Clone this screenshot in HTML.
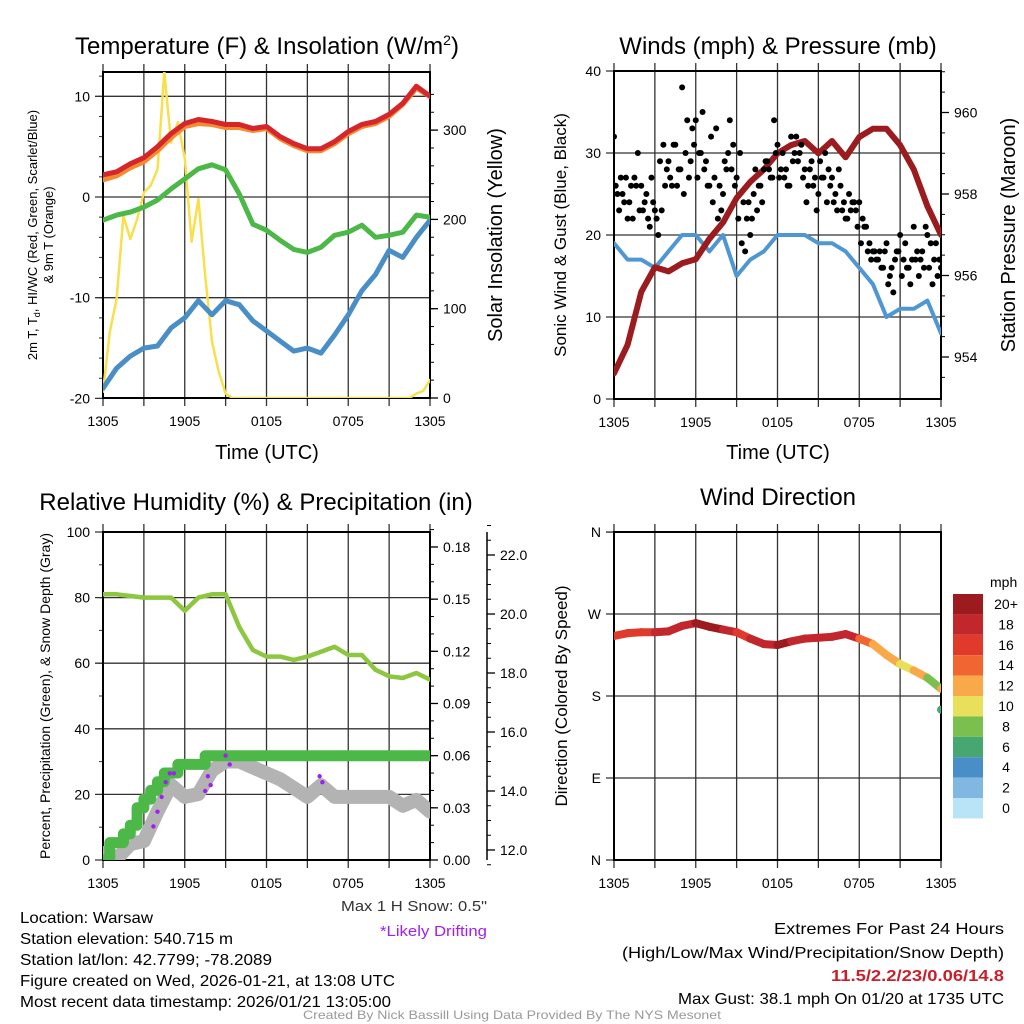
<!DOCTYPE html>
<html><head><meta charset="utf-8"><style>
html,body{margin:0;padding:0;background:#fff;}
svg{display:block;font-family:"Liberation Sans",sans-serif;}
</style></head><body>
<svg id="fig" width="1024" height="1024" viewBox="0 0 1024 1024" xmlns="http://www.w3.org/2000/svg">
<rect x="0" y="0" width="1024" height="1024" fill="#fff"/>
<g id="layer"></g>
<text x="267" y="54" font-size="24" text-anchor="middle">Temperature (F) &amp; Insolation (W/m<tspan dy="-9" font-size="14">2</tspan><tspan dy="9">)</tspan></text>
<text x="778" y="54" font-size="24" text-anchor="middle">Winds (mph) &amp; Pressure (mb)</text>
<text x="256" y="510" font-size="24" text-anchor="middle">Relative Humidity (%) &amp; Precipitation (in)</text>
<text x="778" y="505" font-size="24" text-anchor="middle">Wind Direction</text>
<text x="267" y="459" font-size="20" text-anchor="middle">Time (UTC)</text>
<text x="778" y="459" font-size="20" text-anchor="middle">Time (UTC)</text>
<text transform="translate(37,235) rotate(-90)" font-size="13" text-anchor="middle">2m T, T<tspan dy="3" font-size="9">d</tspan><tspan dy="-3">, HI/WC (Red, Green, Scarlet/Blue)</tspan></text>
<text transform="translate(53,235) rotate(-90)" font-size="13" text-anchor="middle">&amp; 9m T (Orange)</text>
<text transform="translate(502,235) rotate(-90)" font-size="20" text-anchor="middle">Solar Insolation (Yellow)</text>
<text transform="translate(566,235) rotate(-90)" font-size="17" text-anchor="middle">Sonic Wind &amp; Gust (Blue, Black)</text>
<text transform="translate(1015,235) rotate(-90)" font-size="20" text-anchor="middle">Station Pressure (Maroon)</text>
<text transform="translate(50,696) rotate(-90)" font-size="14" text-anchor="middle">Percent, Precipitation (Green), &amp; Snow Depth (Gray)</text>
<text transform="translate(567,696) rotate(-90)" font-size="17" text-anchor="middle">Direction (Colored By Speed)</text>
<text x="487" y="911" font-size="15" text-anchor="end" fill="#333" textLength="146" lengthAdjust="spacingAndGlyphs">Max 1 H Snow: 0.5"</text>
<text x="487" y="936" font-size="15" text-anchor="end" fill="#a020f0" textLength="107" lengthAdjust="spacingAndGlyphs">*Likely Drifting</text>
<g font-size="16">
<text x="20" y="923" textLength="133" lengthAdjust="spacingAndGlyphs">Location: Warsaw</text>
<text x="20" y="944" textLength="213" lengthAdjust="spacingAndGlyphs">Station elevation: 540.715 m</text>
<text x="20" y="965" textLength="252" lengthAdjust="spacingAndGlyphs">Station lat/lon: 42.7799; -78.2089</text>
<text x="20" y="986" textLength="375" lengthAdjust="spacingAndGlyphs">Figure created on Wed, 2026-01-21, at 13:08 UTC</text>
<text x="20" y="1007" textLength="371" lengthAdjust="spacingAndGlyphs">Most recent data timestamp: 2026/01/21 13:05:00</text>
</g>
<g font-size="16" text-anchor="end">
<text x="1004" y="934" textLength="230" lengthAdjust="spacingAndGlyphs">Extremes For Past 24 Hours</text>
<text x="1004" y="958" textLength="382" lengthAdjust="spacingAndGlyphs">(High/Low/Max Wind/Precipitation/Snow Depth)</text>
<text x="1004" y="981" fill="#c8202a" font-weight="bold" textLength="173" lengthAdjust="spacingAndGlyphs">11.5/2.2/23/0.06/14.8</text>
<text x="1004" y="1004" textLength="326" lengthAdjust="spacingAndGlyphs">Max Gust: 38.1 mph On 01/20 at 1735 UTC</text>
</g>
<text x="512" y="1019" font-size="12" text-anchor="middle" fill="#999" textLength="418" lengthAdjust="spacingAndGlyphs">Created By Nick Bassill Using Data Provided By The NYS Mesonet</text>
</svg>
<script>
// ---------- data (hourly from 1305 UTC unless noted) ----------
var timeLabels = ["1305","1905","0105","0705","1305"];
var tempT  = [2.2,2.5,3.3,3.9,5.0,6.3,7.3,7.7,7.5,7.2,7.2,6.8,7.0,6.0,5.3,4.8,4.8,5.5,6.5,7.2,7.5,8.2,9.3,11.0,10.0];
var temp9m = [1.7,2.1,2.9,3.5,4.6,5.9,7.0,7.3,7.2,6.9,6.9,6.6,6.8,5.8,5.1,4.6,4.6,5.3,6.3,7.0,7.3,8.0,9.2,10.8,10.0];
var dewpt  = [-2.3,-1.8,-1.5,-1.0,-0.3,0.8,1.8,2.8,3.2,2.7,0.3,-2.7,-3.3,-4.3,-5.2,-5.5,-5.0,-3.8,-3.5,-2.8,-4.0,-3.8,-3.5,-1.8,-2.0];
var windChill = [-19.0,-17.0,-15.8,-15.0,-14.8,-13.0,-12.0,-10.3,-11.7,-10.3,-10.7,-12.3,-13.3,-14.3,-15.3,-15.0,-15.5,-13.7,-11.7,-9.3,-7.7,-5.3,-6.0,-4.0,-2.3];
// half-hourly
var insolation = [7,74,111,204,178,200,230,238,256,365,286,309,268,175,223,137,63,29,5,0,0,0,0,0,0,0,0,0,0,0,0,0,0,0,0,0,0,0,0,0,0,0,0,0,0,0,5,8,20];
var sonicWind = [19,17,17,16,18,20,20,18,20,15,17,18,20,20,20,19,19,18,16,14,10,11,11,12,8];
var pressure = [953.6,954.3,955.6,956.2,956.1,956.3,956.4,956.9,957.3,957.9,958.3,958.6,959.0,959.2,959.3,959.0,959.3,958.9,959.4,959.6,959.6,959.2,958.6,957.7,957.0];
// 15-minute gusts
var gustA = [32,25,27,24,22,26,27,30,26,24,22,27,23,20,23,26,29,26,31,28,38,30,27,33,34,30,35,29,26,24,33,26,25,28,34,31,27,30,24,22,20,25,23,26,28,29,27,34,31,28,27,26,32,30,29,31,28,26,29,27,25,27,30,28,27,25,28,23,22,25,24,23,24,22,21,19,18,17,18,16,19,15,13,18,20,17,16,14,21,18,17,16,20,19,17,15,16,12];
var gustB = [26,23,25,27,24,22,26,23,23,25,21,24,22,29,31,28,27,31,26,28,25,34,29,31,27,30,28,26,32,27,22,23,29,30,28,26,22,19,18,24,22,28,26,24,29,28,27,30,27,30,28,26,29,32,30,27,24,28,26,23,29,27,24,26,24,23,26,24,22,23,24,21,19,21,18,17,18,17,16,18,14,16,17,18,15,19,16,17,17,15,18,21,16,14,19,17];
var relHum = [81,81,80.5,80,80,80,76,80,81,81,71,64,62,62,61,62,63.5,65,62.5,62.5,58,56,55.5,57,55];
// half-hourly precipitation
var precip = [0,0.01,0.01,0.015,0.02,0.03,0.035,0.04,0.045,0.05,0.05,0.055,0.055,0.055,0.055,0.06,0.06,0.06,0.06,0.06,0.06,0.06,0.06,0.06,0.06,0.06,0.06,0.06,0.06,0.06,0.06,0.06,0.06,0.06,0.06,0.06,0.06,0.06,0.06,0.06,0.06,0.06,0.06,0.06,0.06,0.06,0.06,0.06,0.06];
var snowDepth = [11.9,11.7,12.2,12.3,13.3,14.2,13.8,13.9,14.7,15.0,15.0,14.8,14.6,14.4,14.1,13.8,14.2,13.8,13.8,13.8,13.8,13.8,13.5,13.7,13.3];
var driftHours = [3.7,4.0,4.3,4.6,4.9,5.2,7.5,7.7,7.9,9.0,9.3,15.9,16.1];
var driftSnow  = [12.8,13.3,13.8,14.3,14.6,14.6,14.0,14.5,14.2,15.2,14.9,14.5,14.3];
var windDir   = [246,249,250,250,251,257,260,256,253,250,243,237,236,240,243,244,245,248,243,237,225,215,208,200,188,165];
var windSpeed = [16,16,17,18,18,19,20,20,18,17,18,19,20,19,19,19,19,19,15,13,12,10,12,8,12,7];
var speedLabels = ["20+","18","16","14","12","10","8","6","4","2","0"];
var speedColors = ["#9b1b1e","#c1272d","#e03a2c","#f06530","#f9a84a","#e8e05a","#7bc04f","#47a770","#4a8ec8","#80b8e2","#b9e3f6"];

var NS="http://www.w3.org/2000/svg";
var layer=document.getElementById('layer');
function mk(tag,attrs,parent){var e=document.createElementNS(NS,tag);for(var k in attrs)e.setAttribute(k,attrs[k]);(parent||layer).appendChild(e);return e;}
function txt(x,y,s,size,anchor,parent){var t=mk('text',{x:x,y:y,'font-size':size,'text-anchor':anchor},parent);t.textContent=s;return t;}

function panel(x0,y0,w,h){return {x0:x0,y0:y0,w:w,h:h,x:function(hr){return x0+hr*w/24;}};}
var TL=panel(103,72,327,326), TR=panel(614,71,327,328), BL=panel(103,532,327,328), BR=panel(614,532,327,328);
function yT(v){return 197-v*10.07;}
function yS(v){return 398-v*0.893;}
function yW(v){return 399-v*8.2;}
function yP(v){return 357-(v-954)*40.75;}
function yRH(v){return 860-v*3.28;}
function yPr(v){return 860-v*1739;}
function ySn(v){return 850-(v-12)*29.5;}
function yD(v){return 860-v*0.911;}

function frame(p,name,yTicks,yFn,yLab,yMinor){
  var g=mk('g',{});
  
  
  for(var i=0;i<=8;i++){var xx=p.x(i*3);mk('line',{x1:xx,y1:p.y0-8,x2:xx,y2:p.y0+p.h+8,stroke:'#333','stroke-width':1.3},g);}
  for(var j=0;j<yTicks.length;j++){var yy=yFn(yTicks[j]);mk('line',{x1:p.x0-8,y1:yy,x2:p.x0+p.w,y2:yy,stroke:'#333','stroke-width':1.3},g);
    txt(p.x0-13,yy+5,yLab[j],14,'end',g);}
  if(yMinor){for(var m=0;m<yMinor.length;m++){var ym=yFn(yMinor[m]);mk('line',{x1:p.x0-4,y1:ym,x2:p.x0,y2:ym,stroke:'#333','stroke-width':1},g);}}
  mk('rect',{x:p.x0,y:p.y0,width:p.w,height:p.h,fill:'none',stroke:'#000','stroke-width':2},g);
  for(var k=0;k<timeLabels.length;k++){txt(p.x(k*6),p.y0+p.h+28,timeLabels[k],14,'middle',g);}
  return g;
}
function rightAxis(p,ax,vals,labs,yFn,minor,name){
  var g=mk('g',{});
  
  
  for(var i=0;i<vals.length;i++){var yy=yFn(vals[i]);mk('line',{x1:ax,y1:yy,x2:ax+8,y2:yy,stroke:'#000','stroke-width':1.3},g);txt(ax+13,yy+5,labs[i],14,'start',g);}
  for(var m=0;m<minor.length;m++){var ym=yFn(minor[m]);mk('line',{x1:ax,y1:ym,x2:ax+4,y2:ym,stroke:'#000','stroke-width':1},g);}
  return g;
}
function range(a,b,s){var r=[];for(var v=a;v<=b+1e-9;v+=s)r.push(+v.toFixed(4));return r;}
function series(p,vals,step,yFn,color,width,name){
  var pts=vals.map(function(v,i){return p.x(i*step).toFixed(1)+','+yFn(v).toFixed(1);}).join(' ');
  var e=mk('polyline',{points:pts,fill:'none',stroke:color,'stroke-width':width,'stroke-linejoin':'round','stroke-linecap':'round'});
  
  
  return e;
}
function clip(id,p){var d=mk('clipPath',{id:id});mk('rect',{x:p.x0,y:p.y0,width:p.w,height:p.h},d);}
clip('cTL',TL);clip('cTR',TR);clip('cBL',BL);clip('cBR',BR);

// --- Temperature panel
frame(TL,'temperature-frame',[-20,-10,0,10],yT,['-20','-10','0','10'],range(-20,12,2));
rightAxis(TL,430,[0,100,200,300],['0','100','200','300'],yS,range(0,340,20),'insolation-axis');
var gTL=mk('g',{'clip-path':'url(#cTL)'});
var l;
l=series(TL,insolation,0.5,yS,'#f7e04b',2.5,'insolation-line');gTL.appendChild(l);
l=series(TL,windChill,1,yT,'#4a8ec8',5,'windchill-line');gTL.appendChild(l);
l=series(TL,dewpt,1,yT,'#4cb848',5,'dewpoint-line');gTL.appendChild(l);
l=series(TL,temp9m,1,yT,'#f58a30',5,'temp-9m-line');gTL.appendChild(l);
l=series(TL,tempT,1,yT,'#d7262b',5,'temp-2m-line');gTL.appendChild(l);

// --- Winds panel
frame(TR,'wind-frame',[0,10,20,30,40],yW,['0','10','20','30','40'],null);
rightAxis(TR,941,[954,956,958,960],['954','956','958','960'],yP,range(953.5,961,0.5),'pressure-axis');
var gTR=mk('g',{'clip-path':'url(#cTR)'});
l=series(TR,sonicWind,1,yW,'#4f97d2',4,'sonic-wind-line');gTR.appendChild(l);
l=series(TR,pressure,1,yP,'#9b1b1e',6,'pressure-line');gTR.appendChild(l);
gustA.forEach(function(v,i){
  var c=mk('circle',{cx:TR.x(i*0.25),cy:yW(v),r:3,fill:'#000'},gTR);
  
  
});
gustB.forEach(function(v,i){
  var c=mk('circle',{cx:TR.x(i*0.25+0.125),cy:yW(v),r:3,fill:'#000'},gTR);
  
  
});

// --- Humidity panel
frame(BL,'humidity-frame',[0,20,40,60,80,100],yRH,['0','20','40','60','80','100'],range(0,100,10));
rightAxis(BL,430,[0,0.03,0.06,0.09,0.12,0.15,0.18],['0.00','0.03','0.06','0.09','0.12','0.15','0.18'],yPr,range(0,0.19,0.01),'precip-axis');
var sa=mk('line',{x1:487,y1:532,x2:487,y2:860,stroke:'#000','stroke-width':1.5});


rightAxis(BL,487,[12,14,16,18,20,22],['12.0','14.0','16.0','18.0','20.0','22.0'],ySn,range(11.5,23,0.5),'snow-axis');
var gBL=mk('g',{'clip-path':'url(#cBL)'});
l=series(BL,snowDepth,1,ySn,'#b3b3b3',14,'snow-depth-line');gBL.appendChild(l);
l=series(BL,relHum,1,yRH,'#8dc63f',4.5,'humidity-line');gBL.appendChild(l);
var prPts=[];precip.forEach(function(v,i){if(i>0)prPts.push(BL.x(i*0.5).toFixed(1)+','+yPr(precip[i-1]).toFixed(1));prPts.push(BL.x(i*0.5).toFixed(1)+','+yPr(v).toFixed(1));});
var pl=mk('polyline',{points:prPts.join(' '),fill:'none',stroke:'#4cb848','stroke-width':11,'stroke-linecap':'round','stroke-linejoin':'round'},gBL);


driftHours.forEach(function(h,i){
  var c=mk('circle',{cx:BL.x(h),cy:ySn(driftSnow[i]),r:2.2,fill:'#a020f0'},gBL);
  
  
});

// --- Wind direction panel
frame(BR,'direction-frame',[0,90,180,270,360],yD,['N','E','S','W','N'],null);
var gBR=mk('g',{'clip-path':'url(#cBR)'});
function speedColor(s){var idx=10-Math.min(10,Math.floor(s/2));return speedColors[idx];}
var nDir=windDir.length;
for(var i=0;i<nDir-2;i++){
  var seg=mk('line',{x1:BR.x(i),y1:yD(windDir[i]),x2:BR.x(i+1),y2:yD(windDir[i+1]),stroke:speedColor(windSpeed[i]),'stroke-width':8,'stroke-linecap':'round'},gBR);
  
  
}
windDir.forEach(function(d,i){
  var hr=Math.min(i,24);
  var c=mk('circle',{cx:BR.x(hr),cy:yD(d),r:4,fill:speedColor(windSpeed[i])},gBR);
  
  
});
var lg=mk('g',{});


txt(990,587,'mph',14,'start',lg);
speedLabels.forEach(function(s,i){
  var r=mk('rect',{x:953,y:594+i*20.4,width:30,height:20.4,fill:speedColors[i]},lg);
  
  
  txt(1006,609+i*20.4,s,14,'middle',lg);
});
</script>
</body></html>
